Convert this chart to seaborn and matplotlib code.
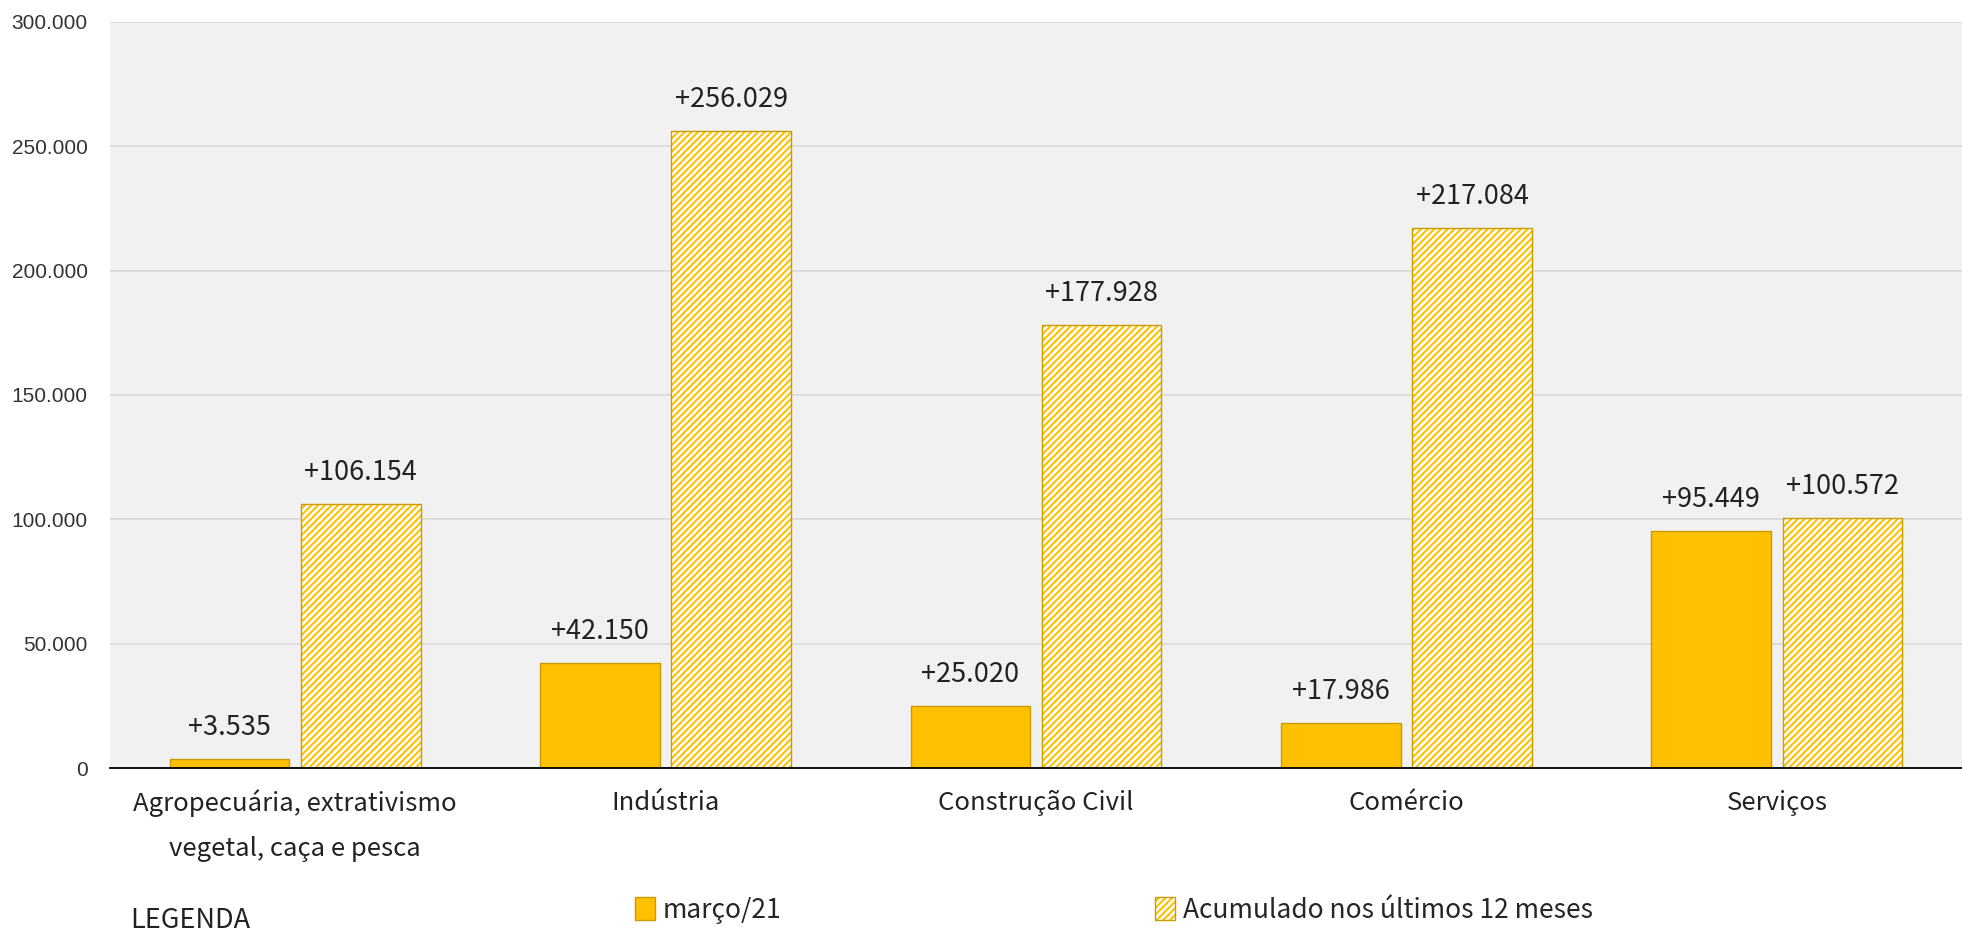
import matplotlib
matplotlib.use("Agg")
import matplotlib.pyplot as plt
import seaborn as sns
import pandas as pd
from matplotlib.patches import Rectangle
from matplotlib.legend_handler import HandlerTuple
from matplotlib.ticker import FuncFormatter

# Saldo de empregos formais por setor
setores = [
    "Agropecuária, extrativismo\nvegetal, caça e pesca",
    "Indústria",
    "Construção Civil",
    "Comércio",
    "Serviços",
]
series = ["março/21", "Acumulado nos últimos 12 meses"]
saldo_mes = [3535, 42150, 25020, 17986, 95449]
saldo_12m = [106154, 256029, 177928, 217084, 100572]
y_ticks = [0, 50000, 100000, 150000, 200000, 250000, 300000]

GOLD = "#FFC000"
EDGE = "#C89B00"
HATCH = "/////"
CJK = ["Noto Sans CJK JP", "DejaVu Sans"]

sns.set_theme(style="white")
plt.rcParams["hatch.linewidth"] = 1.9
plt.rcParams["font.family"] = CJK


def fmt_br(v):
    return f"{int(v):,}".replace(",", ".")


df = pd.DataFrame({
    "setor": setores * 2,
    "serie": [series[0]] * len(setores) + [series[1]] * len(setores),
    "valor": saldo_mes + saldo_12m,
})

fig = plt.figure(figsize=(19.62, 9.35), dpi=100)
ax = fig.add_axes([0.0561, 0.1786, 0.9439, 0.798])
ax.set_facecolor("#F1F1F1")

sns.barplot(
    data=df, x="setor", y="valor", hue="serie",
    order=setores, hue_order=series,
    palette=[GOLD, GOLD], saturation=1,
    width=0.708, gap=0.088, errorbar=None, legend=False,
    edgecolor=EDGE, linewidth=1, ax=ax,
)

# Hatched bars: white stripes over gold, with a separate darker outline
for bar in ax.containers[1]:
    bar.set_hatch(HATCH)
    bar.set_edgecolor("white")
    bar.set_linewidth(0)
    ax.add_patch(Rectangle(bar.get_xy(), bar.get_width(), bar.get_height(),
                           fill=False, edgecolor=EDGE, linewidth=1, zorder=bar.get_zorder() + 0.1))

for cont, vals in zip(ax.containers, [saldo_mes, saldo_12m]):
    ax.bar_label(cont, labels=["+" + fmt_br(v) for v in vals], padding=13,
                 fontsize=19.5, color="#222222", family=CJK)

ax.set_ylim(0, 300000)
ax.set_yticks(y_ticks)
ax.yaxis.set_major_formatter(FuncFormatter(lambda v, p: fmt_br(v)))
ax.tick_params(axis="y", length=0, pad=16, labelsize=15, labelcolor="#333333")
for t in ax.get_yticklabels():
    t.set_family(["Liberation Sans", "DejaVu Sans"])
ax.yaxis.grid(True, color="#DADADA", linewidth=1.2)
ax.set_axisbelow(True)

ax.set_xlim(-0.5, len(setores) - 0.5)
ax.set_xticks(range(len(setores)))
ax.set_xticklabels(setores, fontsize=18.5, color="#222222", linespacing=1.95)
ax.set_xticks([i - 0.5 for i in range(len(setores) + 1)], minor=True)
ax.tick_params(axis="x", which="major", length=0, pad=15.5)
ax.tick_params(axis="x", which="minor", direction="inout", length=13, width=1, color="black")
ax.set_xlabel("")
ax.set_ylabel("")

for s in ["left", "top", "right"]:
    ax.spines[s].set_visible(False)
ax.spines["bottom"].set_color("black")
ax.spines["bottom"].set_linewidth(1.3)

# Legend
fig.text(130 / 1962, 1 - 921 / 935, "LEGENDA", va="center", ha="left",
         fontsize=19.5, color="#222222")
h1 = Rectangle((0, 0), 1, 1, facecolor=GOLD, edgecolor=EDGE, linewidth=1)
h2 = (Rectangle((0, 0), 1, 1, facecolor=GOLD, edgecolor="white", hatch=HATCH, linewidth=0),
      Rectangle((0, 0), 1, 1, fill=False, edgecolor=EDGE, linewidth=1))
fig.legend(handles=[h1, h2], labels=series, ncol=2, loc="center left",
           bbox_to_anchor=(635 / 1962, 1 - 910 / 935), frameon=False,
           handlelength=0.75, handleheight=1.0, handletextpad=0.3,
           columnspacing=14.15, fontsize=19, borderpad=0, borderaxespad=0,
           handler_map={tuple: HandlerTuple(ndivide=1, pad=0)})

fig.savefig("out.png", dpi=100)
